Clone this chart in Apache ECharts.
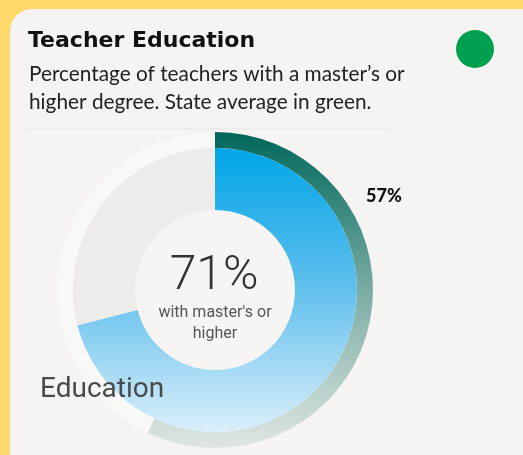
<!DOCTYPE html>
<html>
<head>
<meta charset="utf-8">
<script src="https://cdn.jsdelivr.net/npm/echarts@6/dist/echarts.min.js"></script>
<style>
  html, body { margin: 0; padding: 0; background: #ffd96a; }
  #chart { width: 523px; height: 455px; }
</style>
</head>
<body>
<div id="chart"></div>
<script>
// values
const categories = ['With master\'s or higher', 'Other'];
const schoolValues = [71, 29];   // inner ring
const stateValues = [57, 43];    // outer ring, state average
const titleText = 'Teacher Education';
const subtitleLines = ['Percentage of teachers with a master\u2019s or', 'higher degree. State average in green.'];
const centerLabel = ['with master\'s or', 'higher'];
const ringName = 'Education';

const myChart = echarts.init(document.getElementById('chart'));

const blueGrad = new echarts.graphic.LinearGradient(0, 0, 0, 1, [
  { offset: 0, color: '#00a5e7' },
  { offset: 0.5, color: '#62c0ed' },
  { offset: 1, color: '#dbeffa' }
]);
const tealGrad = new echarts.graphic.LinearGradient(0, 0, 0, 1, [
  { offset: 0, color: '#00675a' },
  { offset: 0.5, color: '#7aaca3' },
  { offset: 1, color: '#dfe6e3' }
]);

const option = {
  backgroundColor: '#ffd96a',
  animation: false,
  graphic: [
    { type: 'rect', shape: { x: 10, y: 9, width: 620, height: 600, r: 22 }, style: { fill: '#f5f4f2' }, z: -10 },
    { type: 'line', shape: { x1: 26, y1: 129, x2: 390, y2: 129 }, style: { stroke: '#e6e5e3', lineWidth: 1 }, z: -5 },
    { type: 'circle', shape: { cx: 475, cy: 49, r: 19 }, style: { fill: '#00a04e' } },
    { type: 'text', x: 28, y: 41, style: { text: titleText, font: 'bold 22px "DejaVu Sans"', fill: '#111', verticalAlign: 'middle' } },
    { type: 'text', x: 29, y: 74, style: { text: subtitleLines[0], font: '20.8px Lato', fill: '#222', verticalAlign: 'middle' } },
    { type: 'text', x: 29, y: 102, style: { text: subtitleLines[1], font: '20.8px Lato', fill: '#222', verticalAlign: 'middle' } },
    { type: 'circle', shape: { cx: 215, cy: 290, r: 80 }, style: { fill: '#f6f5f3' }, z: 5 },
    { type: 'text', x: 214, y: 277, style: { text: schoolValues[0] + '%', font: '300 48px Roboto', fill: '#333', align: 'center', verticalAlign: 'middle' }, z: 6 },
    { type: 'text', x: 215, y: 313, style: { text: centerLabel[0], font: '16px Roboto', fill: '#555', align: 'center', verticalAlign: 'middle' }, z: 6 },
    { type: 'text', x: 215, y: 334, style: { text: centerLabel[1], font: '16px Roboto', fill: '#555', align: 'center', verticalAlign: 'middle' }, z: 6 },
    { type: 'text', x: 40, y: 390, style: { text: ringName, font: '28px Roboto', fill: '#4a4a4a', verticalAlign: 'middle' }, z: 6 },
    { type: 'text', x: 384, y: 196, style: { text: stateValues[0] + '%', font: '900 18px Lato', fill: '#111', align: 'center', verticalAlign: 'middle' }, z: 6 }
  ],
  series: [
    {
      name: 'State',
      type: 'pie',
      center: [215, 290],
      radius: [142, 158],
      startAngle: 90,
      clockwise: true,
      silent: true,
      label: { show: false },
      labelLine: { show: false },
      data: [
        { name: categories[0], value: stateValues[0], itemStyle: { color: tealGrad } },
        { name: categories[1], value: stateValues[1], itemStyle: { color: 'rgba(255,255,255,0.35)' } }
      ]
    },
    {
      name: ringName,
      type: 'pie',
      center: [215, 290],
      radius: [79, 142],
      startAngle: 90,
      clockwise: true,
      silent: true,
      label: { show: false },
      labelLine: { show: false },
      data: [
        { name: categories[0], value: schoolValues[0], itemStyle: { color: blueGrad } },
        { name: categories[1], value: schoolValues[1], itemStyle: { color: '#edecea' } }
      ]
    }
  ]
};

myChart.setOption(option);
</script>
</body>
</html>
